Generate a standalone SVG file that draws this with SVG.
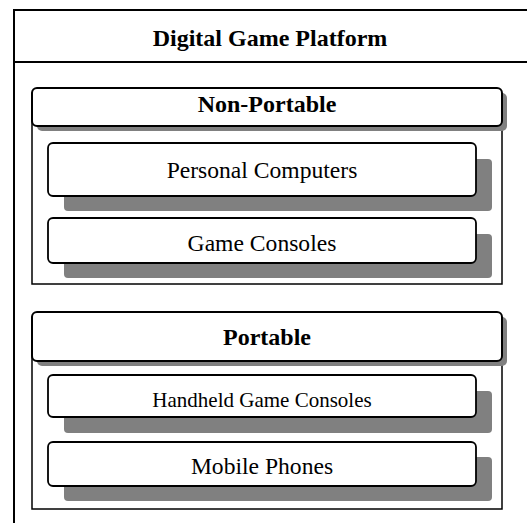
<svg xmlns="http://www.w3.org/2000/svg" width="527" height="523" viewBox="0 0 527 523">
<style>
.frame{fill:#fff;stroke:#000;stroke-width:2}
.hdr{fill:#fff;stroke:#000;stroke-width:2}
.cont{fill:#fff;stroke:#000;stroke-width:1.5}
.item{fill:#fff;stroke:#000;stroke-width:1.8}
.sh{fill:#808080}
.tb{font-family:"Liberation Serif","Times New Roman",serif;font-weight:bold;text-anchor:middle;fill:#000}
.tr{font-family:"Liberation Serif","Times New Roman",serif;text-anchor:middle;fill:#000}
</style>
<g id="platform">
<rect class="frame" x="14" y="10" width="530" height="530"/>
<line x1="14" y1="62" x2="527" y2="62" stroke="#000" stroke-width="2"/>
<text class="tb" x="270" y="46" font-size="24">Digital Game Platform</text>
</g>
<g id="non-portable">
<rect class="cont" x="32" y="120" width="470" height="164"/>
<rect class="sh" x="37" y="93" width="470" height="38" rx="5"/>
<rect class="hdr" x="32" y="88" width="470" height="38" rx="5"/>
<text class="tb" x="267" y="112" font-size="24">Non-Portable</text>
</g>
<g id="personal-computers">
<rect class="sh" x="64" y="159" width="428" height="52" rx="4"/>
<rect class="item" x="48" y="143" width="428" height="53" rx="5"/>
<text class="tr" x="262" y="178" font-size="23.6">Personal Computers</text>
</g>
<g id="game-consoles">
<rect class="sh" x="64" y="234" width="428" height="44" rx="4"/>
<rect class="item" x="48" y="218" width="428" height="45" rx="5"/>
<text class="tr" x="262" y="251" font-size="23.6">Game Consoles</text>
</g>
<g id="portable">
<rect class="cont" x="32" y="355" width="470" height="154"/>
<rect class="sh" x="37" y="317" width="470" height="49" rx="5"/>
<rect class="hdr" x="32" y="312" width="470" height="49" rx="5"/>
<text class="tb" x="267" y="345" font-size="24">Portable</text>
</g>
<g id="handheld-game-consoles">
<rect class="sh" x="64" y="391" width="428" height="42" rx="4"/>
<rect class="item" x="48" y="375" width="428" height="42" rx="5"/>
<text class="tr" x="262" y="407" font-size="21">Handheld Game Consoles</text>
</g>
<g id="mobile-phones">
<rect class="sh" x="64" y="457" width="428" height="44" rx="4"/>
<rect class="item" x="48" y="442" width="428" height="44" rx="5"/>
<text class="tr" x="262" y="474" font-size="23.6">Mobile Phones</text>
</g>
<g id="connectors"/>
</svg>
